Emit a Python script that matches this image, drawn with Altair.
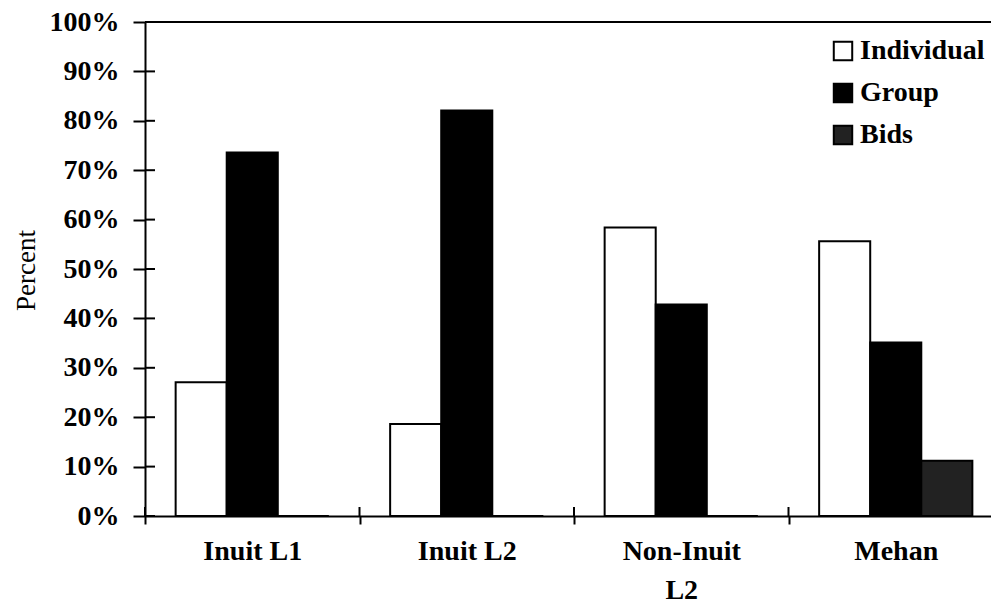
import altair as alt
import pandas as pd

# Share of turns by participation structure, per speaker group
categories = ["Inuit L1", "Inuit L2", "Non-Inuit L2", "Mehan"]
series = ["Individual", "Group", "Bids"]
individual = [27.1, 18.6, 58.4, 55.6]
group = [73.6, 82.1, 42.8, 35.1]
bids = [0.0, 0.0, 0.0, 11.2]
y_ticks = list(range(0, 101, 10))

rows = []
for i, cat in enumerate(categories):
    for name, vals in zip(series, [individual, group, bids]):
        rows.append({"category": cat, "series": name, "value": vals[i]})
df = pd.DataFrame(rows)

W, H = 846, 494
SPAN = 858  # band range runs slightly past the visible right edge
SERIF = "Liberation Serif"

x_scale = alt.Scale(domain=categories, range=[0, SPAN], paddingInner=0, paddingOuter=0)
y_scale = alt.Scale(domain=[0, 100], nice=False, zero=True)

x_axis = alt.Axis(
    title=None,
    tickBand="extent",
    tickSize=8,
    tickWidth=2,
    tickColor="black",
    domainColor="black",
    domainWidth=2,
    labelAngle=0,
    labelFont=SERIF,
    labelFontWeight="bold",
    labelFontSize=28,
    labelColor="black",
    labelPadding=13,
    labelLineHeight=39,
    labelBaseline="top",
    labelExpr="datum.label == 'Non-Inuit L2' ? ['Non-Inuit', 'L2'] : datum.label",
)

y_axis = alt.Axis(
    values=y_ticks,
    title="Percent",
    titleFont=SERIF,
    titleFontWeight="normal",
    titleFontSize=27,
    titleColor="black",
    titleAngle=-90,
    titleX=-119,
    titleY=248,
    titleAlign="center",
    titleBaseline="middle",
    labelExpr="datum.value + '%'",
    labelFont=SERIF,
    labelFontWeight="bold",
    labelFontSize=28,
    labelColor="black",
    labelPadding=14,
    tickSize=12,
    tickWidth=2,
    tickColor="black",
    domainColor="black",
    domainWidth=2,
    grid=False,
)

bars = alt.Chart(df).mark_bar(stroke="black", strokeWidth=2).encode(
    x=alt.X("category:N", sort=categories, scale=x_scale, axis=x_axis),
    xOffset=alt.XOffset(
        "series:N",
        sort=series,
        scale=alt.Scale(domain=series, paddingInner=0, paddingOuter=0.6),
    ),
    y=alt.Y("value:Q", scale=y_scale, axis=y_axis),
    fill=alt.Fill(
        "series:N",
        scale=alt.Scale(domain=series, range=["white", "black", "#222222"]),
        legend=alt.Legend(
            title=None,
            orient="none",
            legendX=684,
            legendY=15,
            symbolType="square",
            symbolSize=340,
            symbolStrokeColor="black",
            symbolStrokeWidth=2,
            labelFont=SERIF,
            labelFontWeight="bold",
            labelFontSize=28,
            labelColor="black",
            labelOffset=3,
            rowPadding=14,
        ),
    ),
)

# top border of the plot frame
top_line = alt.Chart(pd.DataFrame({"value": [100]})).mark_rule(color="black", strokeWidth=2).encode(
    y=alt.Y("value:Q", scale=y_scale, axis=y_axis),
    x=alt.value(0),
    x2=alt.value(SPAN),
)

# inner halves of the y-axis ticks
y_inner = alt.Chart(pd.DataFrame({"value": y_ticks})).mark_rule(color="black", strokeWidth=2).encode(
    y=alt.Y("value:Q", scale=y_scale, axis=y_axis),
    x=alt.value(0),
    x2=alt.value(10),
)

# inner halves of the category separators
x_inner = alt.Chart(pd.DataFrame({"category": categories})).mark_rule(color="black", strokeWidth=2).encode(
    x=alt.X("category:N", sort=categories, scale=x_scale, bandPosition=0, axis=x_axis),
    y=alt.value(H - 9),
    y2=alt.value(H),
)

chart = (
    alt.layer(bars, top_line, y_inner, x_inner)
    .properties(
        width=W,
        height=H,
        autosize=alt.AutoSizeParams(type="none"),
        padding={"left": 145, "top": 22, "right": 0, "bottom": 93},
        background="white",
    )
    .configure_view(stroke=None)
)

chart.save("out.html", embed_options={"renderer": "svg", "actions": False})
